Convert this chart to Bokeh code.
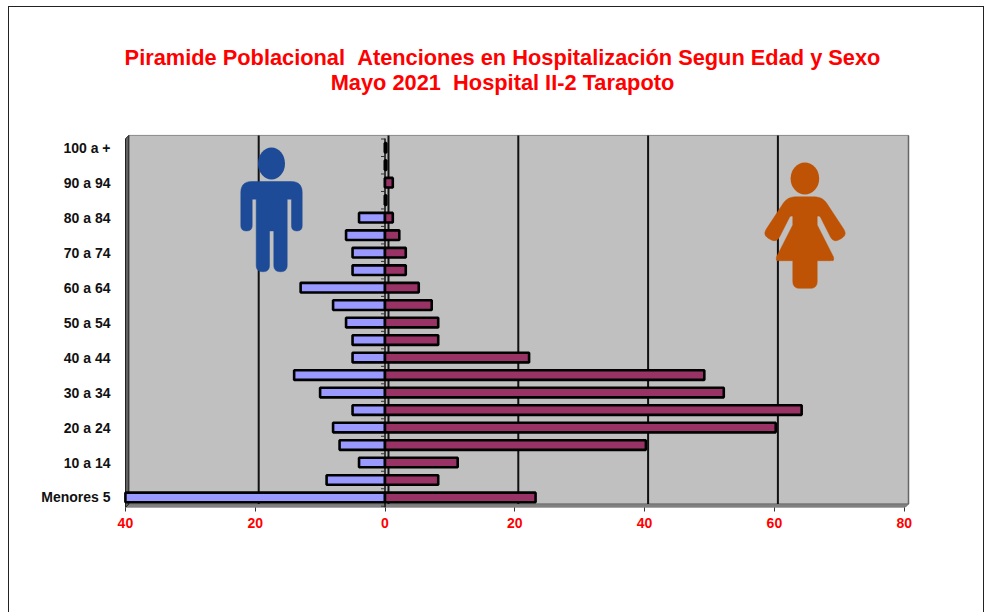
import numpy as np
from bokeh.plotting import figure
from bokeh.models import Range1d, FixedTicker
from bokeh.core.properties import value
from bokeh.embed import file_html
from bokeh.resources import INLINE

title_lines = ["Piramide Poblacional \u00a0Atenciones en Hospitalización Segun Edad y Sexo",
               "Mayo 2021 \u00a0Hospital II-2 Tarapoto"]
categories = ["Menores 5", "5 a 9", "10 a 14", "15 a 19", "20 a 24", "25 a 29", "30 a 34",
              "35 a 39", "40 a 44", "45 a 49", "50 a 54", "55 a 59", "60 a 64", "65 a 69",
              "70 a 74", "75 a 79", "80 a 84", "85 a 89", "90 a 94", "95 a 99", "100 a +"]
male = [40, 9, 4, 7, 8, 5, 10, 14, 5, 5, 6, 8, 13, 5, 5, 6, 4, 0, 0, 0, 0]
female = [23, 8, 11, 40, 60, 64, 52, 49, 22, 8, 8, 7, 5, 3, 3, 2, 1, 0, 1, 0, 0]
x_ticks = [-40, -20, 0, 20, 40, 60, 80]
x_tick_labels = ["40", "20", "0", "20", "40", "60", "80"]

W, H = 976, 606
PAGE_X, PAGE_Y = 9, 7.5                        # where the canvas begins on the page
F_L, F_R, F_T, F_B = 118, 912, 30, 507         # frame, in page pixels
X0, PX_X = 385.0, 6.49                         # page px of value 0, px per unit
Y0, PX_Y = 497.0, 17.45                        # page px of first category, px per category
SHIFT = 0.5                                    # small correction of the canvas position

def dx(px): return (np.asarray(px, float) + SHIFT - X0) / PX_X
def dy(py): return (Y0 - np.asarray(py, float)) / PX_Y

p = figure(width=W, height=H, output_backend="svg", toolbar_location=None,
           x_range=Range1d(float(dx(F_L)), float(dx(F_R))),
           y_range=Range1d(float(dy(F_B)), float(dy(F_T))),
           min_border_left=round(F_L - PAGE_X), min_border_right=round(PAGE_X + W - F_R),
           min_border_top=round(F_T - PAGE_Y), min_border_bottom=round(PAGE_Y + H - F_B),
           background_fill_color=None, border_fill_color="white", outline_line_color=None)
p.grid.visible = False
p.styles = {"margin-left": "8px", "margin-top": "6px",
            "border-left": "1.5px solid #222", "border-right": "1.5px solid #222",
            "border-top": "1.5px solid #222"}

# chart walls
WL, WR, WT, WB = 128.3, 908.0, 135.7, 503.5
p.quad(left=float(dx(WL)), right=float(dx(WR)), top=float(dy(WT)), bottom=float(dy(WB)),
       fill_color="#C0C0C0", line_color="#8a8a8a", line_width=1)
p.patch(dx([WL, WR, 904.5, 125]), dy([WB, WB, 507, 507]), fill_color="#808080", line_color="#707070", line_width=1)
p.patch(dx([125, WL, WL, 125]), dy([139, WT, WB, 507]), fill_color="#606060", line_color="#222222", line_width=1)
p.line(dx([WR, WR]), dy([WT, WB]), line_color="#666666", line_width=1.5)

# gridlines on the back wall
for t in x_ticks[1:-1]:
    gx = t + 3.5 / PX_X
    p.line([gx, gx], dy([WT, WB]), line_color="#111111", line_width=2)

# symbols
def rounded(points):
    out = []
    n = len(points)
    for i, (x, y, r) in enumerate(points):
        a = np.array(points[i - 1][:2], float); b = np.array([x, y], float)
        c = np.array(points[(i + 1) % n][:2], float)
        if r == 0:
            out.append(b); continue
        u, v = (a - b) / np.linalg.norm(a - b), (c - b) / np.linalg.norm(c - b)
        p0, p2 = b + u * r, b + v * r
        for t in np.linspace(0, 1, 8):
            out.append((1 - t) ** 2 * p0 + 2 * t * (1 - t) * b + t ** 2 * p2)
    return np.array(out)

man = rounded([(240.3, 181.7, 11), (301.7, 181.7, 11), (301.7, 231, 5.3), (291, 231, 5.3),
               (291, 199.3, 0), (286.7, 199.3, 0), (286.7, 271.7, 6.5), (273.3, 271.7, 6.5),
               (273.3, 231, 0), (269, 231, 0), (269, 271.7, 6.5), (255.7, 271.7, 6.5),
               (255.7, 199.3, 0), (251.7, 199.3, 0), (251.7, 231, 5.5), (240.3, 231, 5.5)])
p.patch(dx(man[:, 0]), dy(man[:, 1]), fill_color="#1D4B97", line_color="#1D4B97", line_width=0.5)
p.ellipse(float(dx(271)), float(dy(163.7)), width=27 / PX_X, height=32 / PX_Y, fill_color="#1D4B97", line_color=None)

woman = rounded([(787, 197, 8), (822, 197, 8), (847, 235, 7), (833, 243, 7), (819.3, 216, 2),
                 (816.7, 216, 1), (816.7, 225, 0), (834, 259, 3), (832, 260.7, 2), (816.7, 260.7, 0),
                 (816.7, 288.3, 7), (792.3, 288.3, 7), (792.3, 260.7, 0), (777, 260.7, 2), (775, 259, 3),
                 (792.3, 225, 0), (792.3, 216, 1), (789.7, 216, 2), (776, 243, 7), (762, 235, 7)])
p.patch(dx(woman[:, 0]), dy(woman[:, 1]), fill_color="#BF5305", line_color="#BF5305", line_width=0.5)
p.ellipse(float(dx(804.4)), float(dy(178.7)), width=28.6 / PX_X, height=32 / PX_Y, fill_color="#BF5305", line_color=None)

# zero axis and its ticks between categories
idx = np.arange(len(categories))
p.line([0, 0], dy([WT + 3, 507]), line_color="#111111", line_width=1.5)
bounds = np.arange(len(categories) + 1) - 0.5
p.segment(x0=np.full(len(bounds), -4 / PX_X), x1=np.zeros(len(bounds)), y0=bounds, y1=bounds,
          line_color="#333333", line_width=1)

# bars
BAR_H = 9.6 / PX_Y
p.hbar(y=idx, left=-np.array(male), right=0, height=BAR_H, fill_color="#9999FF", line_color="#000000", line_width=2.6)
p.hbar(y=idx, left=0, right=np.array(female) + 0.2, height=BAR_H, fill_color="#993366", line_color="#000000", line_width=2.6)

# axes
xa = p.xaxis[0]
xa.ticker = FixedTicker(ticks=x_ticks)
xa.major_label_overrides = dict(zip(x_ticks, x_tick_labels))
xa.axis_line_color = None
xa.major_tick_in = 0
xa.major_tick_out = 4
xa.major_tick_line_color = "#333333"
xa.minor_tick_line_color = None
xa.major_label_standoff = 6
xa.major_label_text_color = "#FF0000"
xa.major_label_text_font = "Liberation Sans"
xa.major_label_text_font_style = "bold"
xa.major_label_text_font_size = "14px"

ya = p.yaxis[0]
y_shown = [int(i) for i in idx[::2]]
ya.ticker = FixedTicker(ticks=y_shown)
ya.major_label_overrides = {i: categories[i] for i in y_shown}
ya.axis_line_color = None
ya.major_tick_in = 0
ya.major_tick_out = 0
ya.major_tick_line_color = None
ya.minor_tick_in = 0
ya.minor_tick_out = 0
ya.minor_tick_line_color = None
ya.major_label_standoff = 8
ya.major_label_text_color = "#111111"
ya.major_label_text_font = "Liberation Sans"
ya.major_label_text_font_style = "bold"
ya.major_label_text_font_size = "14px"

# title
p.text(x=[float(dx(502))] * 2, y=[float(dy(58)), float(dy(83))], text=title_lines,
       text_align="center", text_baseline="middle", text_color="#FF0000",
       text_font=value("Liberation Sans"), text_font_style="bold", text_font_size="21.8px")

open("out.html", "w").write(file_html(p, INLINE))
